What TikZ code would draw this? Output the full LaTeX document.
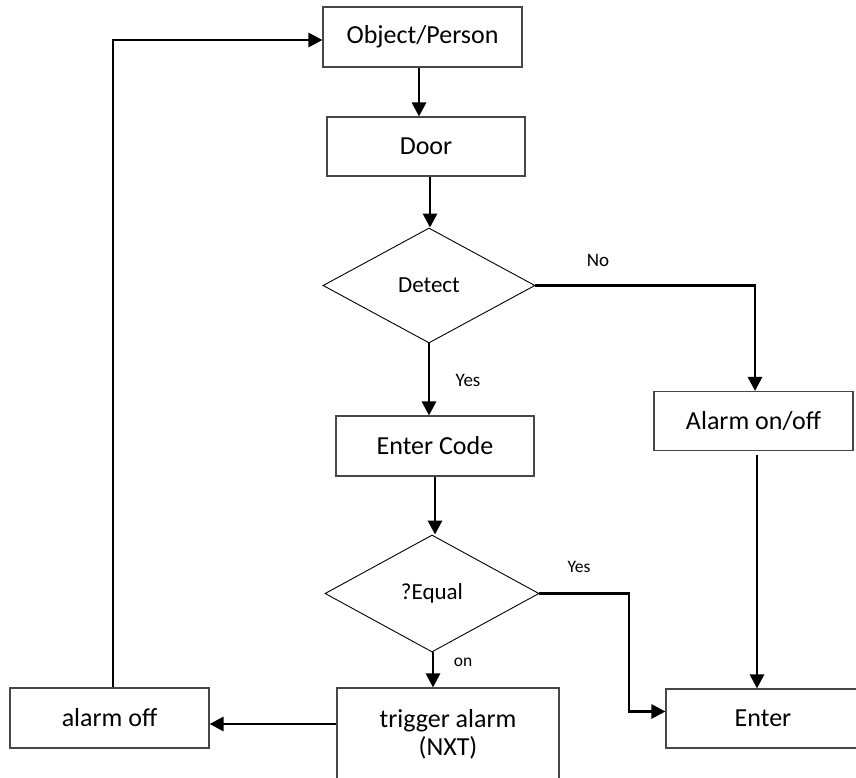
\documentclass[tikz,border=0pt]{standalone}
\usepackage{fontspec}
\setmainfont{Carlito}
\usetikzlibrary{arrows.meta,shapes.geometric,calc}

\tikzset{
  box/.style={draw=black!72, line width=1.1pt, rectangle, inner sep=0pt,
    font=\fontsize{26}{28}\selectfont, align=center},
  decision/.style={draw=black, line width=0.9pt, diamond, inner sep=0pt,
    font=\fontsize{23}{26}\selectfont},
  conn/.style={line width=2.8pt, -{Triangle[length=14pt,width=14pt]}},
  lbl/.style={font=\fontsize{19}{22}\selectfont, inner sep=0pt},
  slbl/.style={font=\fontsize{17.5}{20}\selectfont, inner sep=0pt}
}

\begin{document}
\begin{tikzpicture}[x=1pt, y=-1pt]
\useasboundingbox (0,0) rectangle (856,778);

% boxes
\node[box, minimum width=199pt, minimum height=60pt] (obj) at (422.5,37) {Object/Person};
\node[box, minimum width=198pt, minimum height=59pt] (door) at (426,146.5) {Door};
\node[decision, minimum width=212pt, minimum height=115pt] (detect) at (429,285.5) {Detect};
\node[box, minimum width=199pt, minimum height=59pt] (alarmon) at (753.5,421) {Alarm on/off};
\node[box, minimum width=198pt, minimum height=60pt] (code) at (435,446) {Enter Code};
\node[decision, minimum width=214pt, minimum height=117pt] (equal) at (432,593.5) {?Equal};
\node[box, minimum width=222pt, minimum height=92pt] (trig) at (448,734) {trigger alarm\\(NXT)};
\node[box, minimum width=199pt, minimum height=60pt] (alarmoff) at (109.5,718) {alarm off};
\node[box, minimum width=194pt, minimum height=59pt] (enter) at (763,718.5) {Enter};

% branch corner for the equal test
\coordinate (ycorner) at (629,594);

% connectors
\draw[conn] ([xshift=-3.5pt]obj.south) -- ([xshift=-3.5pt]obj.south |- door.north);
\draw[conn] ([xshift=4pt]door.south) -- ([xshift=4pt]door.south |- detect.north);
\draw[conn] (detect.south) -- (detect.south |- code.north);
\draw[conn] (code.south) -- (code.south |- equal.north);
\draw[conn] ([xshift=1pt]equal.south) -- ([xshift=1pt]equal.south |- trig.north);
\draw[conn] (detect.east) -| ([xshift=1.5pt]alarmon.north);
\draw[conn] ([xshift=3.5pt,yshift=-4pt]alarmon.south) -- ([xshift=3.5pt]alarmon.south |- enter.north);
\draw[conn] (equal.east) -- (equal.east -| ycorner) |- ([yshift=7pt]enter.west);
\draw[conn] ([yshift=-6pt]alarmoff.east -| trig.west) -- ([yshift=-6pt]alarmoff.east);
\draw[conn] ([xshift=3.5pt]alarmoff.north) |- ([yshift=-3pt]obj.west);

% branch labels
\node[lbl] at (598,260) {No};
\node[lbl] at (468,380) {Yes};
\node[slbl] at (579,567) {Yes};
\node[slbl] at (463,662) {on};
\end{tikzpicture}
\end{document}
